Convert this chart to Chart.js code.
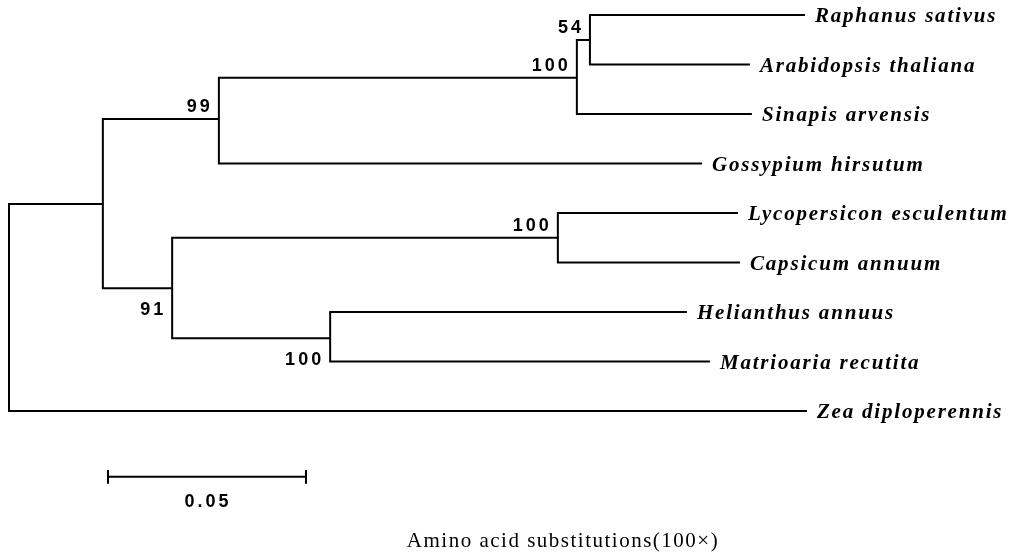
<!DOCTYPE html>
<html>
<head>
<meta charset="utf-8">
<title>Phylogenetic tree</title>
<script src="https://cdn.jsdelivr.net/npm/chart.js@4.4.0/dist/chart.umd.min.js"></script>
<style>
  html, body { margin: 0; padding: 0; background: #fff; }
  canvas { display: block; }
</style>
</head>
<body>
<canvas id="treeChart" width="1014" height="553"></canvas>
<script>
// leaves, top to bottom
const taxa = [
  'Raphanus sativus', 'Arabidopsis thaliana', 'Sinapis arvensis', 'Gossypium hirsutum',
  'Lycopersicon esculentum', 'Capsicum annuum', 'Helianthus annuus', 'Matrioaria recutita',
  'Zea diploperennis'
];
const tipDepth = [0.2010, 0.1871, 0.1876, 0.1750, 0.1841, 0.1846, 0.1712, 0.1770, 0.2015];
const tipRow = [0, 1, 2, 3, 4, 5, 6, 7, 8];
const tipParent = ['n54', 'n54', 'nBra', 'n99', 'nSol', 'nSol', 'nAst', 'nAst', 'root'];

// internal nodes
const nodeIds = ['root', 'nA', 'n99', 'nBra', 'n54', 'n91', 'nSol', 'nAst'];
const nodeDepth = [0, 0.0237, 0.0530, 0.1434, 0.1467, 0.0412, 0.1386, 0.0811];
const nodeRow = [5.91, 3.82, 2.10, 1.27, 0.505, 5.52, 4.50, 6.53];
const nodeParent = [null, 'root', 'nA', 'n99', 'nBra', 'nA', 'n91', 'n91'];
const bootstrap = [null, null, 99, 100, 54, 91, 100, 100];

// scale bar
const scaleBarStart = 0.0250;
const scaleBarLength = 0.05;
const scaleBarRow = 9.33;
const scaleBarLabel = '0.05';
const axisTitle = 'Amino acid substitutions(100×)';

// bootstrap label goes above or below the branch leading into the node
const bootBelow = { n91: true, nAst: true };

// one bracket per internal node: child stem -> node -> child stem
const datasets = nodeIds.map((id, i) => {
  const kids = [];
  tipParent.forEach((p, t) => { if (p === id) kids.push({ x: tipDepth[t], y: tipRow[t] }); });
  nodeParent.forEach((p, n) => { if (p === id) kids.push({ x: nodeDepth[n], y: nodeRow[n] }); });
  kids.sort((a, b) => a.y - b.y);
  const top = kids[0], bot = kids[kids.length - 1];
  return {
    data: [
      { x: top.x, y: top.y },
      { x: nodeDepth[i], y: top.y },
      { x: nodeDepth[i], y: bot.y },
      { x: bot.x, y: bot.y }
    ]
  };
});

const tick = 0.14;
datasets.push({
  data: [
    { x: scaleBarStart, y: scaleBarRow - tick },
    { x: scaleBarStart, y: scaleBarRow + tick },
    { x: scaleBarStart, y: scaleBarRow },
    { x: scaleBarStart + scaleBarLength, y: scaleBarRow },
    { x: scaleBarStart + scaleBarLength, y: scaleBarRow - tick },
    { x: scaleBarStart + scaleBarLength, y: scaleBarRow + tick }
  ]
});

datasets.forEach(ds => Object.assign(ds, {
  showLine: true,
  borderColor: '#000',
  borderWidth: 2,
  pointRadius: 0,
  fill: false,
  tension: 0,
  borderJoinStyle: 'miter'
}));

const treeLabels = {
  id: 'treeLabels',
  afterDraw(chart) {
    const { ctx, scales: { x, y } } = chart;
    ctx.save();
    ctx.fillStyle = '#000';

    // taxon names
    ctx.font = 'italic bold 21px "Liberation Serif"';
    ctx.letterSpacing = '1.8px';
    ctx.textAlign = 'left';
    ctx.textBaseline = 'middle';
    taxa.forEach((name, i) => {
      ctx.fillText(name, x.getPixelForValue(tipDepth[i]) + 10, y.getPixelForValue(tipRow[i]) + 2);
    });

    // bootstrap values
    ctx.font = 'bold 18px "Liberation Sans"';
    ctx.letterSpacing = '3px';
    ctx.textAlign = 'right';
    nodeIds.forEach((id, i) => {
      if (bootstrap[i] == null) return;
      const px = x.getPixelForValue(nodeDepth[i]) - 6;
      const py = y.getPixelForValue(nodeRow[i]) + (bootBelow[id] ? 22 : -12);
      ctx.fillText(String(bootstrap[i]), px, py);
    });

    // scale bar label
    ctx.textAlign = 'center';
    ctx.fillText(scaleBarLabel, x.getPixelForValue(scaleBarStart + scaleBarLength / 2) + 1, y.getPixelForValue(scaleBarRow) + 25);

    // axis caption
    ctx.font = '21px "Liberation Serif"';
    ctx.letterSpacing = '1.5px';
    ctx.fillText(axisTitle, 563, 541);
    ctx.restore();
  }
};

new Chart(document.getElementById('treeChart'), {
  type: 'scatter',
  data: { datasets },
  options: {
    responsive: false,
    animation: false,
    devicePixelRatio: 1,
    layout: { padding: 0 },
    plugins: { legend: { display: false }, tooltip: { enabled: false } },
    scales: {
      x: { display: false, min: -9 / 3960, max: -9 / 3960 + 1014 / 3960 },
      y: { display: false, reverse: true, min: -15 / 49.5, max: -15 / 49.5 + 553 / 49.5 }
    }
  },
  plugins: [treeLabels]
});
</script>
</body>
</html>
